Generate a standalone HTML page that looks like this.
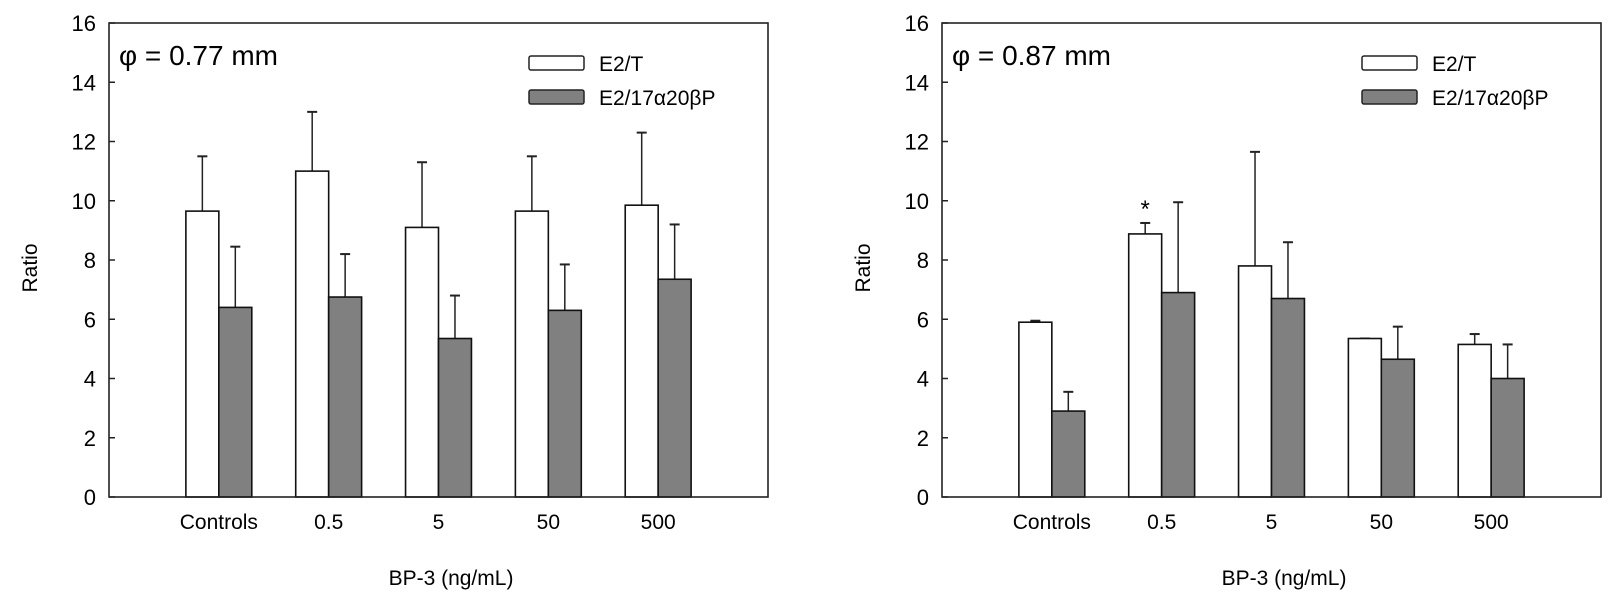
<!DOCTYPE html>
<html><head><meta charset="utf-8"><style>
body{margin:0;background:#fff;}
svg text{font-family:"Liberation Sans",Arial,sans-serif;fill:#000;}
</style></head><body>
<svg id="c" width="1615" height="611" xmlns="http://www.w3.org/2000/svg"></svg>
<script>
const categories = ["Controls","0.5","5","50","500"];
const yTicks = [0,2,4,6,8,10,12,14,16];
const leftE2T = [9.65,11.0,9.1,9.65,9.85];
const leftE2TErr = [11.5,13.0,11.3,11.5,12.3];
const leftE2P = [6.4,6.75,5.35,6.3,7.35];
const leftE2PErr = [8.45,8.2,6.8,7.85,9.2];
const rightE2T = [5.9,8.88,7.8,5.35,5.15];
const rightE2TErr = [5.95,9.25,11.65,5.35,5.5];
const rightE2P = [2.9,6.9,6.7,4.65,4.0];
const rightE2PErr = [3.55,9.95,8.6,5.75,5.15];
const seriesNames = ["E2/T","E2/17\u03b120\u03b2P"];
const panelTitles = ["\u03c6 = 0.77 mm","\u03c6 = 0.87 mm"];
const rightStars = [false,true,false,false,false];

const svg=document.getElementById('c');
const NS='http://www.w3.org/2000/svg';
function mk(t,a,p){const e=document.createElementNS(NS,t);for(const k in a)e.setAttribute(k,a[k]);(p||svg).appendChild(e);return e;}

function panel(idx,left,w,t,tE,p,pE,stars){
  const top=23,bot=497,ymax=16;
  const g=mk('g',{});
  
  
  const y=v=>bot-(v/ymax)*(bot-top);
  const band=w/6, bw=band*0.3;
  const cx=i=>left+(i+1)*band;
  const draw=(vals,errs,off,fill,nm)=>{
    vals.forEach((v,i)=>{
      const x=cx(i)+off;
      const ex=x+bw/2;
      const el=mk('line',{x1:ex,x2:ex,y1:y(v),y2:y(errs[i]),stroke:'#222','stroke-width':1.5},g);
      
      
      const cap=mk('line',{x1:ex-5,x2:ex+5,y1:y(errs[i]),y2:y(errs[i]),stroke:'#222','stroke-width':2},g);
      
      
      const r=mk('rect',{x:x,y:y(v),width:bw,height:y(0)-y(v),fill:fill,stroke:'#111','stroke-width':1.6},g);
      
      
    });
  };
  draw(t,tE,-bw,'#fff','e2t');
  draw(p,pE,0,'#808080','e2p');
  stars.forEach((s,i)=>{ if(s){const st=mk('text',{x:cx(i)-bw/2,y:y(tE[i])-6,'font-size':24,'text-anchor':'middle'},g);st.textContent='*';
    }});
  const fr=mk('rect',{x:left,y:top,width:w,height:bot-top,fill:'none',stroke:'#222','stroke-width':1.6},g);
  
  yTicks.forEach(v=>{
    const tk=mk('line',{x1:left,x2:left+6,y1:y(v),y2:y(v),stroke:'#222','stroke-width':1.5},g);
    
    const tl=mk('text',{x:left-13,y:y(v)+8,'font-size':22,'text-anchor':'end'},g);tl.textContent=v;
    
  });
  categories.forEach((c,i)=>{
    const tl=mk('text',{x:cx(i),y:529,'font-size':21,'text-anchor':'middle'},g);tl.textContent=c;
    
  });
  const yt=mk('text',{x:0,y:0,'font-size':21,'text-anchor':'middle',transform:`translate(${left-72},268) rotate(-90)`},g);yt.textContent='Ratio';
  
  const xt=mk('text',{x:left+342,y:585,'font-size':21,'text-anchor':'middle'},g);xt.textContent='BP-3 (ng/mL)';
  
  const ti=mk('text',{x:left+10,y:65,'font-size':28},g);ti.textContent=panelTitles[idx];
  
  const lx=left+w-239;
  [['#fff',0],['#808080',1]].forEach(([f,k])=>{
    const ly=56+k*34;
    const r=mk('rect',{x:lx,y:ly,width:55,height:14,rx:2,fill:f,stroke:'#222','stroke-width':1.5},g);
    
    const tx=mk('text',{x:lx+70,y:ly+15,'font-size':21},g);tx.textContent=seriesNames[k];
    
  });
}
panel(0,109,659,leftE2T,leftE2TErr,leftE2P,leftE2PErr,[false,false,false,false,false]);
panel(1,942,659,rightE2T,rightE2TErr,rightE2P,rightE2PErr,rightStars);
</script>
</body></html>
